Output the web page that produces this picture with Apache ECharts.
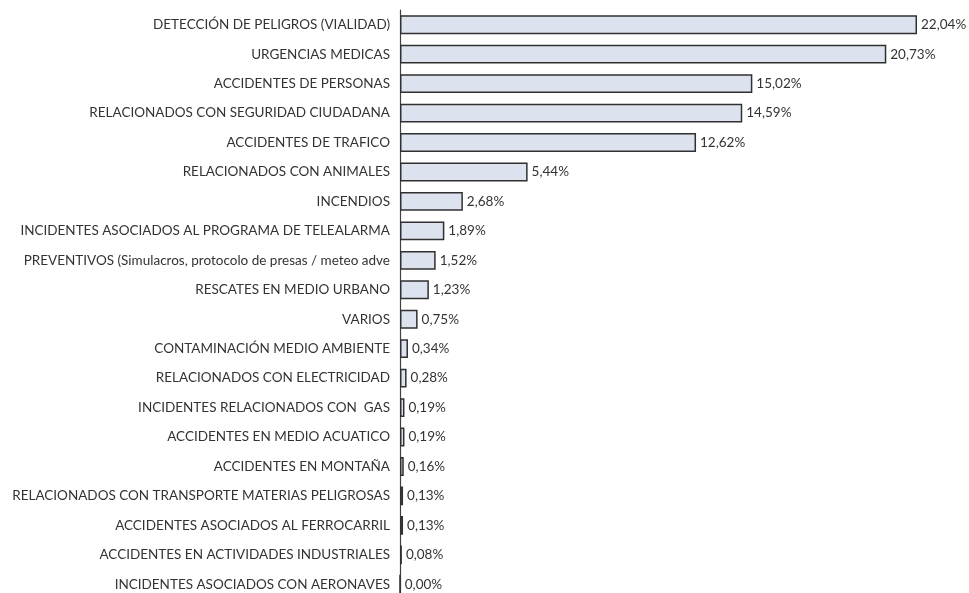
<!DOCTYPE html>
<html>
<head>
<meta charset="utf-8">
<script src="https://cdn.jsdelivr.net/npm/echarts@6/dist/echarts.min.js"></script>
<style>
  html, body { margin: 0; padding: 0; background: #fff; }
  #chart { width: 969px; height: 593px; }
</style>
</head>
<body>
<div id="chart"></div>
<script>
// Incident categories, top to bottom
const categories = [
  "DETECCIÓN DE PELIGROS (VIALIDAD)",
  "URGENCIAS MEDICAS",
  "ACCIDENTES DE PERSONAS",
  "RELACIONADOS CON SEGURIDAD CIUDADANA",
  "ACCIDENTES DE TRAFICO",
  "RELACIONADOS CON ANIMALES",
  "INCENDIOS",
  "INCIDENTES ASOCIADOS AL PROGRAMA DE TELEALARMA",
  "PREVENTIVOS (Simulacros, protocolo de presas / meteo adve",
  "RESCATES EN MEDIO URBANO",
  "VARIOS",
  "CONTAMINACIÓN MEDIO AMBIENTE",
  "RELACIONADOS CON ELECTRICIDAD",
  "INCIDENTES RELACIONADOS CON  GAS",
  "ACCIDENTES EN MEDIO ACUATICO",
  "ACCIDENTES EN MONTAÑA",
  "RELACIONADOS CON TRANSPORTE MATERIAS PELIGROSAS",
  "ACCIDENTES ASOCIADOS AL FERROCARRIL",
  "ACCIDENTES EN ACTIVIDADES INDUSTRIALES",
  "INCIDENTES ASOCIADOS CON AERONAVES"
];

// Share of incidents per category (%)
const percentages = [
  22.04, 20.73, 15.02, 14.59, 12.62, 5.44, 2.68, 1.89, 1.52, 1.23,
  0.75, 0.34, 0.28, 0.19, 0.19, 0.16, 0.13, 0.13, 0.08, 0.00
];

const fmt = v => v.toFixed(2).replace('.', ',') + '%';

const chart = echarts.init(document.getElementById('chart'), null, { renderer: 'canvas' });
chart.setOption({
  animation: false,
  textStyle: { fontFamily: 'Lato, "Open Sans", sans-serif' },
  grid: {
    left: 400, right: 6, top: 10, bottom: -6,
    containLabel: false,
    outerBoundsMode: 'none'
  },
  xAxis: {
    type: 'value',
    min: 0,
    max: 24,
    show: false
  },
  yAxis: {
    type: 'category',
    inverse: true,
    data: categories,
    axisLine: { show: true, lineStyle: { color: '#404040', width: 1.2 } },
    axisTick: { show: false },
    axisLabel: { color: '#333', fontSize: 13.5, margin: 10 }
  },
  series: [{
    type: 'bar',
    data: percentages,
    barCategoryGap: '36%',
    itemStyle: { color: '#dce3ef', borderColor: '#303030', borderWidth: 1.5 },
    label: {
      show: true,
      position: 'right',
      distance: 4,
      color: '#333',
      fontSize: 13.5,
      formatter: p => fmt(p.value)
    }
  }]
});
</script>
</body>
</html>
